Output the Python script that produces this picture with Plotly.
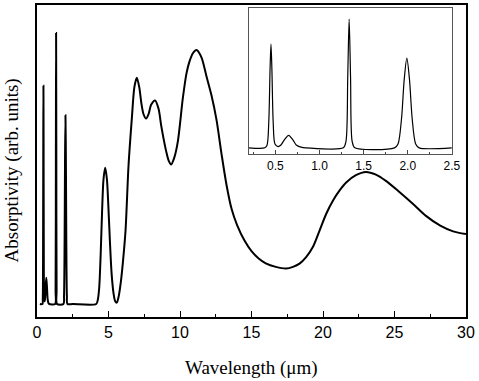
import plotly.graph_objects as go

# Wavelength (um) and absorptivity (arb. units)
wavelength = [0.20, 0.38, 0.405, 0.425, 0.44, 0.45, 0.46, 0.475, 0.495, 0.53,
              0.56, 0.60, 0.65, 0.70, 0.74, 0.80, 0.85,
              1.27, 1.30, 1.32, 1.336, 1.352, 1.37, 1.40,
              1.85, 1.89, 1.93, 1.96, 1.99, 2.02, 2.05, 2.09, 2.13,
              2.50, 4.14, 4.25, 4.35, 4.45, 4.55, 4.65, 4.77, 4.89, 4.99, 5.10,
              5.22, 5.35, 5.47, 5.58, 5.72, 5.86, 6.00, 6.19, 6.40, 6.64, 6.81,
              6.98, 7.15, 7.30, 7.45, 7.63, 7.80, 7.98, 8.26, 8.50, 8.68, 8.85,
              9.03, 9.20, 9.38, 9.60, 9.85, 10.20, 10.45, 10.66, 10.90, 11.15,
              11.50, 11.85, 12.20, 12.55, 12.90, 13.25, 13.60, 14.00, 14.50,
              15.00, 15.50, 16.00, 16.70, 17.43, 17.90, 18.36, 18.82, 19.29,
              19.76, 20.22, 20.69, 21.15, 21.62, 22.30, 23.00, 23.70, 24.40,
              25.30, 26.30, 27.20, 28.20, 29.10, 30.00]
absorptivity = [0.0, 0.0, 0.02, 0.20, 0.62, 0.805, 0.62, 0.20, 0.03, 0.01,
                0.02, 0.06, 0.097, 0.06, 0.02, 0.003, 0.0,
                0.0, 0.05, 0.55, 1.0, 0.55, 0.05, 0.0,
                0.0, 0.03, 0.23, 0.53, 0.696, 0.53, 0.23, 0.03, 0.0,
                0.0, 0.0, 0.015, 0.06, 0.18, 0.34, 0.46, 0.503, 0.46, 0.36, 0.23,
                0.11, 0.04, 0.01, 0.005, 0.03, 0.08, 0.15, 0.27, 0.51, 0.69, 0.80,
                0.835, 0.80, 0.74, 0.70, 0.684, 0.70, 0.735, 0.751, 0.72, 0.66, 0.61,
                0.564, 0.53, 0.515, 0.54, 0.60, 0.76, 0.85, 0.894, 0.925, 0.937,
                0.91, 0.84, 0.77, 0.68, 0.555, 0.44, 0.352, 0.29, 0.235,
                0.195, 0.168, 0.15, 0.137, 0.131, 0.137, 0.149, 0.173, 0.21,
                0.271, 0.332, 0.381, 0.418, 0.448, 0.475, 0.487, 0.477, 0.454,
                0.415, 0.369, 0.325, 0.289, 0.268, 0.258]

inset_wl = [w for w in wavelength if w <= 2.5]
inset_ab = absorptivity[:len(inset_wl)]

main_ticks = [0, 5, 10, 15, 20, 25, 30]
inset_ticks = [0.5, 1.0, 1.5, 2.0, 2.5]
inset_ticklabels = ["0.5", "1.0", "1.5", "2.0", "2.5"]

fig = go.Figure()
fig.add_trace(go.Scatter(x=wavelength, y=absorptivity, mode="lines",
                         line=dict(color="black", width=2, shape="spline", smoothing=0.8),
                         xaxis="x", yaxis="y", showlegend=False))
fig.add_trace(go.Scatter(x=inset_wl, y=inset_ab, mode="lines",
                         line=dict(color="black", width=1.2, shape="spline", smoothing=0.8),
                         xaxis="x2", yaxis="y2", showlegend=False))

tick_font = dict(family="Liberation Sans, Arial, sans-serif", size=16, color="black")

fig.update_layout(
    width=479, height=381,
    margin=dict(l=37, r=13, t=3, b=64),
    paper_bgcolor="white", plot_bgcolor="white",
    font=dict(family="Liberation Serif, Times New Roman, serif", color="black"),
    xaxis=dict(domain=[0, 1], range=[0, 30], tickvals=main_ticks,
               ticks="inside", ticklen=6, tickwidth=1.2, tickcolor="black",
               minor=dict(dtick=2.5, tick0=0, ticks="inside", ticklen=3, tickcolor="black"),
               showline=True, linecolor="black", linewidth=1.5, mirror=True,
               showgrid=False, zeroline=False, tickfont=tick_font),
    yaxis=dict(domain=[0, 1], range=[-0.048, 1.103], showticklabels=False, ticks="",
               showline=True, linecolor="black", linewidth=1.5, mirror=True,
               showgrid=False, zeroline=False),
    xaxis2=dict(domain=[0.494, 0.967], anchor="y2", range=[0.2, 2.5],
                tickvals=inset_ticks, ticktext=inset_ticklabels,
                ticks="inside", ticklen=4, tickwidth=1, tickcolor="#444",
                minor=dict(dtick=0.25, tick0=0, ticks="inside", ticklen=2, tickcolor="#444"),
                showline=True, linecolor="#555", linewidth=1, mirror=True,
                showgrid=False, zeroline=False,
                tickfont=dict(family="Liberation Sans, Arial, sans-serif", size=12, color="black")),
    yaxis2=dict(domain=[0.522, 0.990], anchor="x2", range=[-0.049, 1.085],
                showticklabels=False, ticks="",
                showline=True, linecolor="#555", linewidth=1, mirror=True,
                showgrid=False, zeroline=False),
    annotations=[
        dict(text="Wavelength (\u03bcm)", xref="paper", yref="paper",
             x=0.5, y=-0.163, xanchor="center", yanchor="middle", showarrow=False,
             font=dict(family="Liberation Serif, Times New Roman, serif", size=19, color="black")),
        dict(text="Absorptivity (arb. units)", xref="paper", yref="paper",
             x=-0.058, y=0.47, xanchor="center", yanchor="middle", showarrow=False,
             textangle=-90,
             font=dict(family="Liberation Serif, Times New Roman, serif", size=19, color="black")),
    ],
)

fig.write_html("out.html", config={"displayModeBar": False},
               post_script="document.body.style.margin='0';document.body.style.padding='0';")
